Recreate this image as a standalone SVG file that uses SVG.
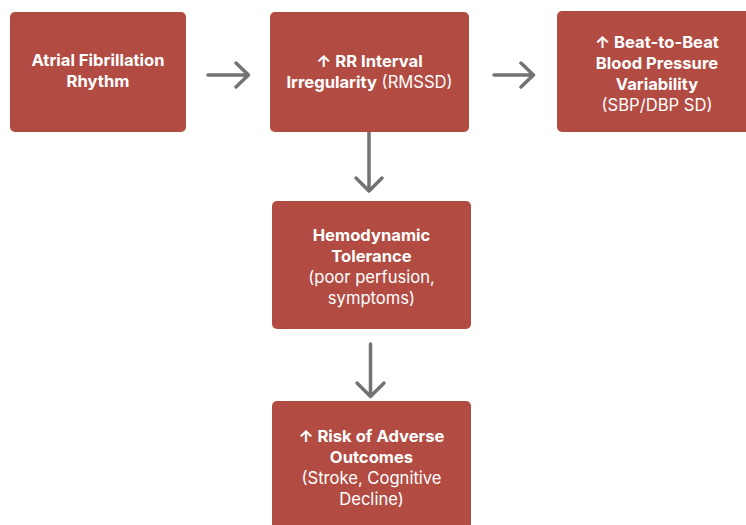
<svg xmlns="http://www.w3.org/2000/svg" width="746" height="525" viewBox="0 0 746 525">
<style>
.box{fill:#b24c43;}
.t{font-family:Inter,"Liberation Sans",sans-serif;font-size:16.6px;fill:#ffffff;text-anchor:middle;}
.b{font-weight:700;}
.n{font-weight:400;}
.c{fill:none;stroke:#737373;stroke-width:3.5;stroke-linecap:round;stroke-linejoin:round;}
</style>
<rect width="746" height="525" fill="#ffffff"/>
<g id="connectors">
<path class="c" d="M208 75 H248 M236 63 L248.5 75 L236 87"/>
<path class="c" d="M494 75 H533 M521 63 L533.5 75 L521 87"/>
<path class="c" d="M369 132 V190 M356 178 L369 191 L382 178"/>
<path class="c" d="M370.5 344 V396 M357 383 L370.5 396.5 L384 383"/>
</g>
<g id="n1">
<rect class="box" x="10" y="12" width="176" height="120" rx="5"/>
<text class="t b" x="98" y="66">Atrial Fibrillation</text>
<text class="t b" x="98" y="87">Rhythm</text>
</g>
<g id="n2">
<rect class="box" x="270" y="12" width="199" height="120" rx="5"/>
<text class="t b" x="369.5" y="67">↑ RR Interval</text>
<text class="t" x="369.5" y="88"><tspan class="b">Irregularity</tspan><tspan class="n"> (RMSSD)</tspan></text>
</g>
<g id="n3">
<rect class="box" x="557" y="11" width="200" height="121" rx="5"/>
<text class="t b" x="657" y="48">↑ Beat-to-Beat</text>
<text class="t b" x="657" y="69">Blood Pressure</text>
<text class="t b" x="657" y="90">Variability</text>
<text class="t n" x="657" y="111">(SBP/DBP SD)</text>
</g>
<g id="n4">
<rect class="box" x="272" y="201" width="199" height="128" rx="5"/>
<text class="t b" x="371.5" y="241">Hemodynamic</text>
<text class="t b" x="371.5" y="262">Tolerance</text>
<text class="t n" x="371.5" y="283">(poor perfusion,</text>
<text class="t n" x="371.5" y="304">symptoms)</text>
</g>
<g id="n5">
<rect class="box" x="272" y="401" width="199" height="135" rx="5"/>
<text class="t b" x="371.5" y="442">↑ Risk of Adverse</text>
<text class="t b" x="371.5" y="463">Outcomes</text>
<text class="t n" x="371.5" y="484">(Stroke, Cognitive</text>
<text class="t n" x="371.5" y="505">Decline)</text>
</g>
</svg>
